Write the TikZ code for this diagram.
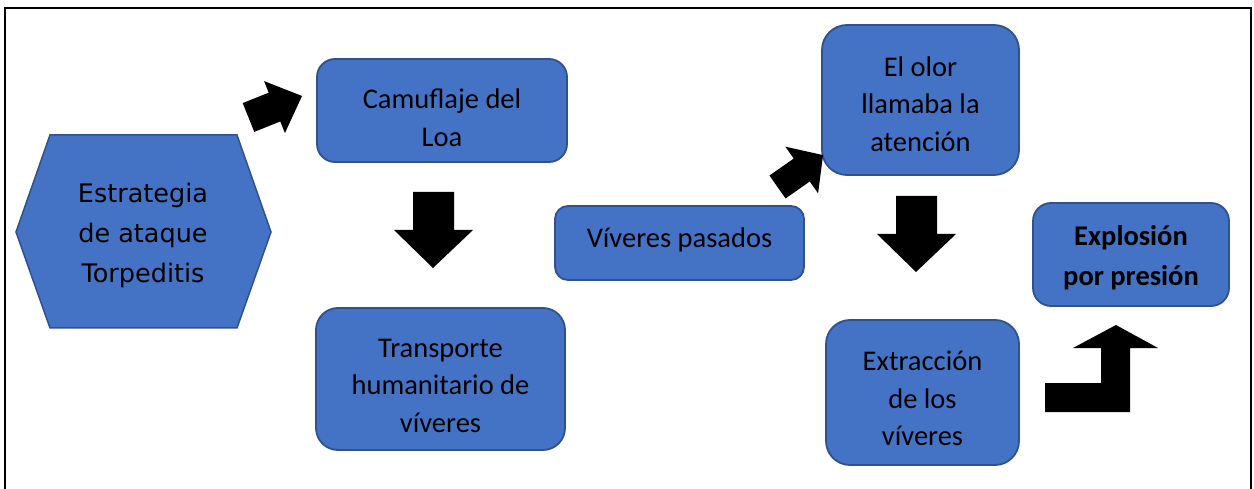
\documentclass[tikz,border=0pt]{standalone}
\usepackage{fontspec}
\setmainfont{Carlito}
\newfontfamily\hexfont{DejaVu Sans}
\definecolor{boxblue}{HTML}{4472C4}
\definecolor{boxedge}{HTML}{2F528F}
\newcommand\bxfont{\fontsize{28.5}{37.5}\selectfont}
\begin{document}
\begin{tikzpicture}[x=1pt,y=-1pt,
  box/.style={draw=boxedge, fill=boxblue, line width=1.8pt, inner sep=0pt},
  txt/.style={align=center, font=\bxfont, text=black, inner sep=0pt},
  blk/.style={fill=black}]
\useasboundingbox (0,0) rectangle (1254,489);
% frame
\draw[line width=2.6pt] (5,489) -- (5,8) -- (1251,8) -- (1251,489);
% hexagon
\draw[draw=boxedge, fill=boxblue, line width=1.5pt] (16,232) -- (50,135) -- (237,135) -- (271,232) -- (237,328) -- (50,328) -- cycle;
\node[align=center, font=\hexfont\fontsize{25.5}{40}\selectfont] (hex) at (143,235) {Estrategia\\de ataque\\Torpeditis};
% boxes
\node[box, rounded corners=18pt, minimum width=250pt, minimum height=103pt] (cam) at (442,110.5) {};
\node[txt, yshift=-7pt] (camt) at (cam.center) {Camuflaje del\\Loa};
\node[box, rounded corners=22pt, minimum width=249pt, minimum height=142pt] (trans) at (440.5,379) {};
\node[txt, yshift=-6.5pt] (transt) at (trans.center) {Transporte\\humanitario de\\víveres};
\node[box, rounded corners=13pt, minimum width=249pt, minimum height=74pt] (viv) at (679.5,243) {};
\node[txt, yshift=3pt] (vivt) at (viv.center) {Víveres pasados};
\node[box, rounded corners=25pt, minimum width=197pt, minimum height=150pt] (olor) at (920.5,100) {};
\node[txt, yshift=-4pt] (olort) at (olor.center) {El olor\\llamaba la\\atención};
\node[box, rounded corners=24pt, minimum width=193pt, minimum height=145pt] (extr) at (922.5,392.5) {};
\node[txt, yshift=-6pt] (extrt) at (extr.center) {Extracción\\de los\\víveres};
\node[box, rounded corners=18pt, minimum width=196pt, minimum height=103pt] (expl) at (1131,254.5) {};
\node[txt, font=\fontsize{28.5}{40}\selectfont\bfseries, yshift=-3pt] (explt) at (expl.center) {Explosión\\por presión};
% block arrows
\fill[blk, shift={(248.5,117.5)}, rotate=21.9] (0,-15.5) -- (28,-15.5) -- (28,-28) -- (57.7,0) -- (28,28) -- (28,15.5) -- (0,15.5) -- cycle;
\fill[blk, shift={(777.5,187)}, rotate=35] (0,-14) -- (29.6,-14) -- (29.6,-28.5) -- (55.6,0) -- (29.6,28.5) -- (29.6,14) -- (0,14) -- cycle;
\fill[blk] (413,192) -- (454,192) -- (454,230) -- (473,230) -- (433,268) -- (394,230) -- (413,230) -- cycle;
\fill[blk] (896,196) -- (937,196) -- (937,234) -- (956,234) -- (916,272) -- (877,234) -- (896,234) -- cycle;
\fill[blk] (1045,383) -- (1101,383) -- (1101,348) -- (1073,348) -- (1116,325) -- (1158,348) -- (1130,348) -- (1130,412) -- (1045,412) -- cycle;
\end{tikzpicture}
\end{document}
